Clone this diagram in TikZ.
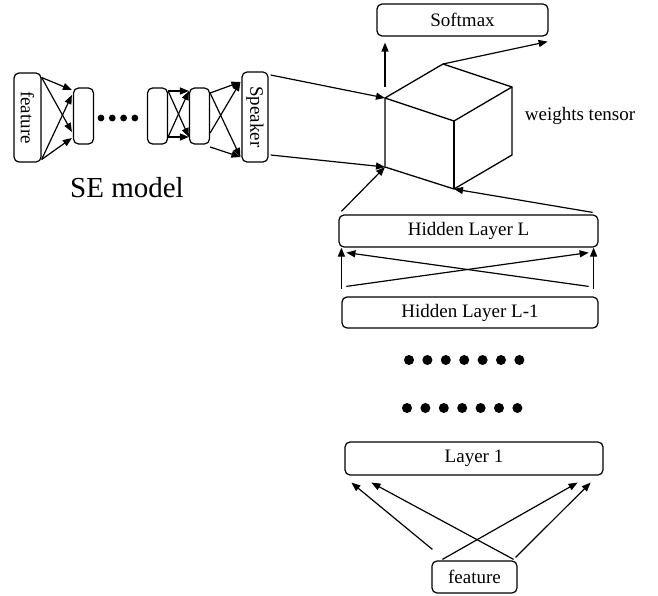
\documentclass[tikz,border=0pt]{standalone}
\usepackage{graphicx}
\usepackage{fontspec}
\setmainfont{Liberation Serif}
\usetikzlibrary{arrows.meta,calc}

\begin{document}
\begin{tikzpicture}[
  x=1pt, y=-1pt,
  box/.style  = {draw, rounded corners=5pt, inner sep=0pt, line width=1.2pt,
                 font=\fontsize{19}{22}\selectfont},
  arr/.style  = {-{Triangle[length=9pt,width=7pt]}, line width=1.2pt},
  cube/.style = {line width=1.3pt, line join=round},
  lbl/.style  = {font=\fontsize{19}{22}\selectfont}
]
  \useasboundingbox (0,0) rectangle (658,596);

  % SE model
  \node[box, minimum width=27, minimum height=89] (feat) at (27.5,117.5)
    {\rotatebox{-90}{feature}};
  \node[box, minimum width=20, minimum height=56] (se1) at (83.5,116) {};
  \node[box, minimum width=20, minimum height=56] (se2) at (157.5,116) {};
  \node[box, minimum width=20, minimum height=56] (se3) at (199.5,116) {};
  \node[box, minimum width=26, minimum height=90] (spk) at (255,117)
    {\rotatebox{-90}{Speaker}};
  \node[font=\fontsize{29}{34}\selectfont] (semodel) at (127,188) {SE model};

  \foreach \i in {0,...,3}{
    \fill (101+\i*11.3,118) circle (3.4);
  }

  \foreach \a/\b in {-40/-26,-40/16,42/-21,42/22}{
    \draw[arr] ($(feat.east)+(0,\a)$) -- ($(se1.west)+(-1,\b)$);
  }
  \foreach \a/\b in {-25/-25,-25/21,21/21,21/-25}{
    \draw[arr] ($(se2.east)+(0,\a)$) -- ($(se3.west)+(0,\b)$);
  }
  \foreach \a/\b in {-23/-35,-23/40,17/-35,31/40}{
    \draw[arr] ($(se3.east)+(0,\a)$) -- ($(spk.west)+(-1,\b)$);
  }

  % weights tensor
  \coordinate (A) at (385,98);
  \coordinate (B) at (443,64);
  \coordinate (C) at (512,87);
  \coordinate (D) at (454,121);
  \coordinate (E) at (385,167);
  \coordinate (F) at (454,189);
  \coordinate (G) at (512,155);
  \draw[cube] (A) -- (B) -- (C) -- (D) -- cycle;
  \draw[cube] (A) -- (E) -- (F) -- (G) -- (C);
  \draw[cube] (D) -- (F);
  \node[lbl] (wlbl) at (580,116) {weights tensor};

  \draw[arr] ($(spk.east)+(2,-42)$) -- (A);
  \draw[arr] ($(spk.east)+(2,38)$) -- (E);

  \node[box, minimum width=171, minimum height=32] (smax) at (462.5,20) {Softmax};
  \draw[arr] ($(A)+(0,-11)$) -- ($(A |- smax.south)+(0,6)$);
  \draw[arr] (B) -- ($(smax.south east)+(-1,5)$);

  % DNN layers
  \node[box, minimum width=259, minimum height=32] (hidL) at (468.5,231) {Hidden Layer L};
  \node[box, minimum width=256, minimum height=31] (hidLm) at (470,312.5) {Hidden Layer L-1};
  \node[box, minimum width=258, minimum height=33] (lay1) at (474,458.5) {Layer 1};
  \node[box, minimum width=85, minimum height=32] (feat2) at (474.5,577) {feature};

  \draw[arr] ($(hidL.north west)+(3,-3)$) -- (E);
  \draw[arr] ($(hidL.north east)+(-6,-2)$) -- (F);

  \draw[arr] ($(hidLm.north west)+(0,-7)$) -- (hidLm.north west |- hidL.south);
  \draw[arr] ($(hidLm.north east)+(-5,-7)$) -- ($(hidLm.north east |- hidL.south)+(-5,0)$);
  \draw[arr] ($(hidLm.north west)+(5,-10)$) -- ($(hidL.south east)+(-10,5)$);
  \draw[arr] ($(hidLm.north east)+(-10,-10)$) -- ($(hidL.south west)+(8,5)$);

  \foreach \y/\x in {360/409,408/407}{
    \foreach \i in {0,...,6}{
      \fill (\x+\i*18.4,\y) circle (5);
    }
  }

  \draw[arr] ($(feat2.north west)+(1,-11)$) -- ($(lay1.south west)+(7,7)$);
  \draw[arr] ($(feat2.north east)+(-4,-1)$) -- ($(lay1.south west)+(27,7)$);
  \draw[arr] ($(feat2.north west)+(11,-1)$) -- ($(lay1.south east)+(-26,7)$);
  \draw[arr] ($(feat2.north east)+(-2,-3)$) -- ($(lay1.south east)+(-13,7)$);
\end{tikzpicture}
\end{document}
